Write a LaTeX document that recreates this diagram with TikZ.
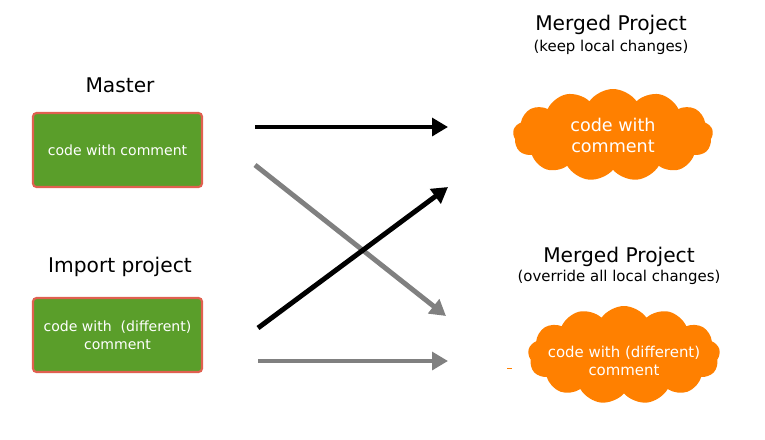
\documentclass[tikz,border=0pt]{standalone}
\usepackage{fontspec}
\setmainfont{DejaVu Sans}
\usetikzlibrary{shapes.symbols,arrows.meta}
\definecolor{boxgreen}{HTML}{5A9E2A}
\definecolor{boxred}{HTML}{E06050}
\definecolor{cloudorange}{HTML}{FF8000}
\definecolor{arrowgray}{HTML}{808080}
\tikzset{
  codebox/.style={draw=boxred,fill=boxgreen,line width=1.2pt,rounded corners=2pt,
    minimum width=169*0.02cm,minimum height=74*0.02cm,text=white,
    font=\fontsize{8}{10}\selectfont,align=center},
  merge/.style={cloud,cloud puffs=13,cloud puff arc=110,aspect=2,fill=cloudorange,
    inner sep=0pt},
  cloudtext/.style={text=white,align=center},
  title/.style={font=\fontsize{11.5}{13}\selectfont},
  subtitle/.style={font=\fontsize{8.5}{10}\selectfont},
  flow/.style={line width=2.8pt,-{Triangle[length=9pt,width=10pt]}},
}
\begin{document}
\begin{tikzpicture}[x=0.02cm,y=-0.02cm]
\useasboundingbox (0,0) rectangle (765,440);

\node[title] (master) at (120,85) {Master};
\node[codebox] (mcode) at (117.5,150) {code with comment};
\node[title] (import) at (120,267) {Import project};
\node[codebox] (icode) at (117.5,335) {code with~~(different)\\comment};

\node[title] (keep) at (611,25) {Merged Project};
\node[subtitle] (keepsub) at (611,47) {(keep local changes)};
\node[merge,minimum width=200*0.02cm,minimum height=92*0.02cm] (kcloud) at (613,135) {};
\node[cloudtext,font=\fontsize{10}{12}\selectfont] (ktext) at (kcloud) {code with\\comment};

\node[title] (over) at (619,257) {Merged Project};
\node[subtitle] (oversub) at (619,277) {(override all local changes)};
\node[merge,minimum width=192*0.02cm,minimum height=98*0.02cm] (ocloud) at (624,355) {};
\node[cloudtext,font=\fontsize{8.5}{10.5}\selectfont] (otext) at (624,361) {code with (different)\\comment};

% arrow ends
\coordinate (m1) at (255,127);
\coordinate (m2) at (255,165);
\coordinate (i1) at (258,328);
\coordinate (i2) at (258,361);
\coordinate (k1) at (448,127);
\coordinate (k2) at (448,187);
\coordinate (o1) at (446,316);
\coordinate (o2) at (448,361);

\draw[flow,black] (m1) -- (k1);
\draw[flow,arrowgray] (m2) -- (o1);
\draw[flow,black] (i1) -- (k2);
\draw[flow,arrowgray] (i2) -- (o2);

\fill[cloudorange] (507,367.5) rectangle (512,368.5);
\end{tikzpicture}
\end{document}
